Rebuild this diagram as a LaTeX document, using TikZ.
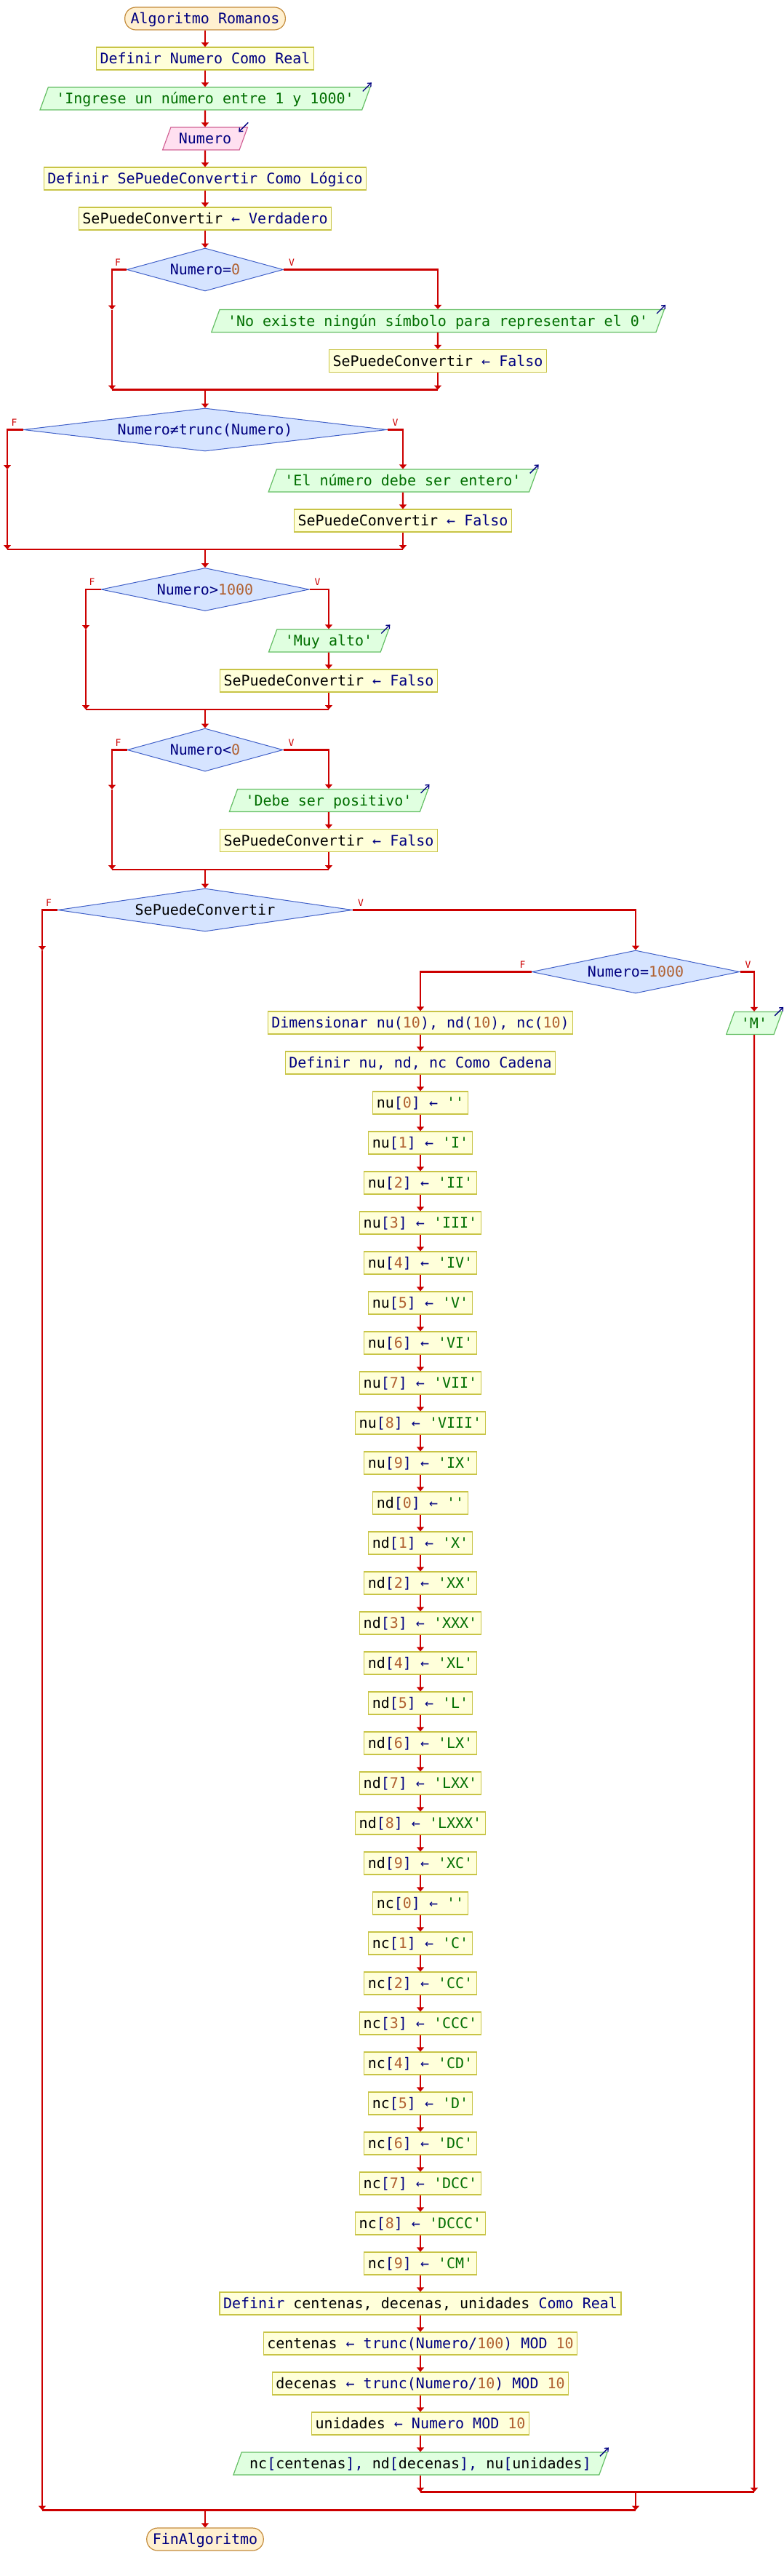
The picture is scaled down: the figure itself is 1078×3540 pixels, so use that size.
\documentclass[tikz,border=0pt]{standalone}
\usepackage{fontspec}
\setmonofont{DejaVu Sans Mono}
\usetikzlibrary{shapes.geometric,arrows.meta}
\definecolor{termedge}{RGB}{196,140,60}
\definecolor{termfill}{RGB}{255,240,208}
\definecolor{procedge}{RGB}{200,196,70}
\definecolor{procfill}{RGB}{255,255,218}
\definecolor{outedge}{RGB}{100,190,100}
\definecolor{outfill}{RGB}{224,255,224}
\definecolor{inedge}{RGB}{210,100,150}
\definecolor{infill}{RGB}{255,224,240}
\definecolor{condedge}{RGB}{64,96,200}
\definecolor{condfill}{RGB}{214,228,255}
\definecolor{flowred}{RGB}{204,0,0}
\definecolor{kwblue}{RGB}{0,0,128}
\definecolor{numbrown}{RGB}{176,96,48}
\definecolor{strgreen}{RGB}{0,110,0}
\newcommand{\kw}[1]{\textcolor{kwblue}{#1}}
\newcommand{\nv}[1]{\textcolor{numbrown}{#1}}
\newcommand{\tx}[1]{\textcolor{strgreen}{#1}}
\tikzset{
  pseudotext/.style={font=\ttfamily\fontsize{20}{24}\selectfont, text height=14pt, text depth=0pt, inner ysep=8.5pt},
  termnode/.style={pseudotext, rectangle, rounded corners=15pt, draw=termedge, fill=termfill, line width=1.2pt, inner xsep=8pt},
  procbox/.style={pseudotext, rectangle, draw=procedge, fill=procfill, line width=1.2pt, inner xsep=5pt},
  outbox/.style={pseudotext, trapezium, trapezium left angle=70, trapezium right angle=110, draw=outedge, fill=outfill, line width=1.2pt, inner xsep=11pt},
  inbox/.style={pseudotext, trapezium, trapezium left angle=70, trapezium right angle=110, draw=inedge, fill=infill, line width=1.2pt, inner xsep=11pt},
  condbox/.style={pseudotext, diamond, aspect=6, inner sep=0pt, minimum height=59pt, draw=condedge, fill=condfill, line width=1pt},
  branchlabel/.style={font=\ttfamily\fontsize{13}{15}\selectfont, text=flowred, inner sep=0pt},
  flow/.style={draw=flowred, line width=2.2pt, -{Triangle[width=10pt,length=6pt]}},
  flowline/.style={draw=flowred, line width=2.2pt},
  outmark/.style={draw=kwblue, line width=1.3pt, -{Straight Barb[length=4pt,width=7pt]}},
}
\begin{document}
\begin{tikzpicture}[x=1pt, y=-1pt]
\useasboundingbox (0,0) rectangle (1078,3540);
% inicio y lectura
\node[termnode] (start) at (282,25.5) {\kw{Algoritmo Romanos}};
\node[procbox] (defnum) at (282,80.5) {\kw{Definir Numero Como Real}};
\node[outbox] (askmsg) at (282,135.5) {\tx{'Ingrese un número entre 1 y 1000'}};
\node[inbox] (readnum) at (282,190.5) {\kw{Numero}};
\node[procbox] (defflag) at (282,245.5) {\kw{Definir SePuedeConvertir Como Lógico}};
\node[procbox] (setflag) at (282,300.5) {SePuedeConvertir \kw{← Verdadero}};
% validaciones
\node[condbox, minimum width=215pt] (ifzero) at (282,370.5) {\kw{Numero=}\nv{0}};
\node[outbox] (zeromsg) at (602,441) {\tx{'No existe ningún símbolo para representar el 0'}};
\node[procbox] (zeroflag) at (602,496) {SePuedeConvertir \kw{← Falso}};
\node[condbox, minimum width=500pt] (ifint) at (282,590.5) {\kw{Numero≠trunc(Numero)}};
\node[outbox] (intmsg) at (554,660.5) {\tx{'El número debe ser entero'}};
\node[procbox] (intflag) at (554,715.5) {SePuedeConvertir \kw{← Falso}};
\node[condbox, minimum width=286pt] (ifbig) at (282,810) {\kw{Numero>}\nv{1000}};
\node[outbox] (bigmsg) at (452,880.5) {\tx{'Muy alto'}};
\node[procbox] (bigflag) at (452,935.5) {SePuedeConvertir \kw{← Falso}};
\node[condbox, minimum width=214pt] (ifneg) at (282,1030.5) {\kw{Numero<}\nv{0}};
\node[outbox] (negmsg) at (452,1100) {\tx{'Debe ser positivo'}};
\node[procbox] (negflag) at (452,1155) {SePuedeConvertir \kw{← Falso}};
% conversion
\node[condbox, minimum width=405pt] (ifflag) at (282,1250.5) {SePuedeConvertir};
\node[condbox, minimum width=286pt] (ifmil) at (874,1335.5) {\kw{Numero=}\nv{1000}};
\node[outbox, inner xsep=9pt] (milmsg) at (1037,1406) {\tx{'M'}};
\node[procbox] (dimarr) at (578,1405.5) {\kw{Dimensionar nu(}\nv{10}\kw{), nd(}\nv{10}\kw{), nc(}\nv{10}\kw{)}};
\node[procbox] (defarr) at (578,1460.5) {\kw{Definir nu, nd, nc Como Cadena}};
\node[procbox] (nu0) at (578,1515.5) {nu\kw{[}\nv{0}\kw{] ←} \tx{''}};
\node[procbox] (nu1) at (578,1570.5) {nu\kw{[}\nv{1}\kw{] ←} \tx{'I'}};
\node[procbox] (nu2) at (578,1625.5) {nu\kw{[}\nv{2}\kw{] ←} \tx{'II'}};
\node[procbox] (nu3) at (578,1680.5) {nu\kw{[}\nv{3}\kw{] ←} \tx{'III'}};
\node[procbox] (nu4) at (578,1735.5) {nu\kw{[}\nv{4}\kw{] ←} \tx{'IV'}};
\node[procbox] (nu5) at (578,1790.5) {nu\kw{[}\nv{5}\kw{] ←} \tx{'V'}};
\node[procbox] (nu6) at (578,1845.5) {nu\kw{[}\nv{6}\kw{] ←} \tx{'VI'}};
\node[procbox] (nu7) at (578,1900.5) {nu\kw{[}\nv{7}\kw{] ←} \tx{'VII'}};
\node[procbox] (nu8) at (578,1955.5) {nu\kw{[}\nv{8}\kw{] ←} \tx{'VIII'}};
\node[procbox] (nu9) at (578,2010.5) {nu\kw{[}\nv{9}\kw{] ←} \tx{'IX'}};
\node[procbox] (nd0) at (578,2065.5) {nd\kw{[}\nv{0}\kw{] ←} \tx{''}};
\node[procbox] (nd1) at (578,2120.5) {nd\kw{[}\nv{1}\kw{] ←} \tx{'X'}};
\node[procbox] (nd2) at (578,2175.5) {nd\kw{[}\nv{2}\kw{] ←} \tx{'XX'}};
\node[procbox] (nd3) at (578,2230.5) {nd\kw{[}\nv{3}\kw{] ←} \tx{'XXX'}};
\node[procbox] (nd4) at (578,2285.5) {nd\kw{[}\nv{4}\kw{] ←} \tx{'XL'}};
\node[procbox] (nd5) at (578,2340.5) {nd\kw{[}\nv{5}\kw{] ←} \tx{'L'}};
\node[procbox] (nd6) at (578,2395.5) {nd\kw{[}\nv{6}\kw{] ←} \tx{'LX'}};
\node[procbox] (nd7) at (578,2450.5) {nd\kw{[}\nv{7}\kw{] ←} \tx{'LXX'}};
\node[procbox] (nd8) at (578,2505.5) {nd\kw{[}\nv{8}\kw{] ←} \tx{'LXXX'}};
\node[procbox] (nd9) at (578,2560.5) {nd\kw{[}\nv{9}\kw{] ←} \tx{'XC'}};
\node[procbox] (nc0) at (578,2615.5) {nc\kw{[}\nv{0}\kw{] ←} \tx{''}};
\node[procbox] (nc1) at (578,2670.5) {nc\kw{[}\nv{1}\kw{] ←} \tx{'C'}};
\node[procbox] (nc2) at (578,2725.5) {nc\kw{[}\nv{2}\kw{] ←} \tx{'CC'}};
\node[procbox] (nc3) at (578,2780.5) {nc\kw{[}\nv{3}\kw{] ←} \tx{'CCC'}};
\node[procbox] (nc4) at (578,2835.5) {nc\kw{[}\nv{4}\kw{] ←} \tx{'CD'}};
\node[procbox] (nc5) at (578,2890.5) {nc\kw{[}\nv{5}\kw{] ←} \tx{'D'}};
\node[procbox] (nc6) at (578,2945.5) {nc\kw{[}\nv{6}\kw{] ←} \tx{'DC'}};
\node[procbox] (nc7) at (578,3000.5) {nc\kw{[}\nv{7}\kw{] ←} \tx{'DCC'}};
\node[procbox] (nc8) at (578,3055.5) {nc\kw{[}\nv{8}\kw{] ←} \tx{'DCCC'}};
\node[procbox] (nc9) at (578,3110.5) {nc\kw{[}\nv{9}\kw{] ←} \tx{'CM'}};
\node[procbox] (defcdu) at (578,3165.5) {\kw{Definir} centenas, decenas, unidades \kw{Como Real}};
\node[procbox] (setcen) at (578,3220.5) {centenas \kw{← trunc(Numero/}\nv{100}\kw{) MOD} \nv{10}};
\node[procbox] (setdec) at (578,3275.5) {decenas \kw{← trunc(Numero/}\nv{10}\kw{) MOD} \nv{10}};
\node[procbox] (setuni) at (578,3330.5) {unidades \kw{← Numero MOD} \nv{10}};
\node[outbox] (showrom) at (578,3385.5) {nc\kw{[}centenas\kw{],} nd\kw{[}decenas\kw{],} nu\kw{[}unidades\kw{]}};
\node[termnode] (finish) at (282,3489.5) {\kw{FinAlgoritmo}};
% etiquetas F / V
\node[branchlabel] (ifzeroF) at ([shift={(-12,-10)}]ifzero.west) {F};
\node[branchlabel] (ifzeroV) at ([shift={(11,-10)}]ifzero.east) {V};
\node[branchlabel] (ifintF) at ([shift={(-12,-10)}]ifint.west) {F};
\node[branchlabel] (ifintV) at ([shift={(11,-10)}]ifint.east) {V};
\node[branchlabel] (ifbigF) at ([shift={(-12,-10)}]ifbig.west) {F};
\node[branchlabel] (ifbigV) at ([shift={(11,-10)}]ifbig.east) {V};
\node[branchlabel] (ifnegF) at ([shift={(-12,-10)}]ifneg.west) {F};
\node[branchlabel] (ifnegV) at ([shift={(11,-10)}]ifneg.east) {V};
\node[branchlabel] (ifflagF) at ([shift={(-12,-10)}]ifflag.west) {F};
\node[branchlabel] (ifflagV) at ([shift={(11,-10)}]ifflag.east) {V};
\node[branchlabel] (ifmilF) at ([shift={(-12,-10)}]ifmil.west) {F};
\node[branchlabel] (ifmilV) at ([shift={(11,-10)}]ifmil.east) {V};
% marcas de entrada / salida
\draw[outmark] ([shift={(-11,6)}]askmsg.top right corner) -- ++(12,-12);
\draw[outmark] ([shift={(0,-6)}]readnum.top right corner) -- ++(-13,13);
\draw[outmark] ([shift={(-11,6)}]zeromsg.top right corner) -- ++(12,-12);
\draw[outmark] ([shift={(-11,6)}]intmsg.top right corner) -- ++(12,-12);
\draw[outmark] ([shift={(-11,6)}]bigmsg.top right corner) -- ++(12,-12);
\draw[outmark] ([shift={(-11,6)}]negmsg.top right corner) -- ++(12,-12);
\draw[outmark] ([shift={(-11,6)}]milmsg.top right corner) -- ++(12,-12);
\draw[outmark] ([shift={(-11,6)}]showrom.top right corner) -- ++(12,-12);
% puntos de union
\coordinate (zeroskip) at (154,425.5);
\coordinate (zerojoinL) at (154,535.5);
\coordinate (zerojoin) at (282,535.5);
\coordinate (zerojoinR) at (602,535.5);
\coordinate (intskip) at (10,645);
\coordinate (intjoinL) at (10,755);
\coordinate (intjoin) at (282,755);
\coordinate (intjoinR) at (554,755);
\coordinate (bigskip) at (118,865);
\coordinate (bigjoinL) at (118,975);
\coordinate (bigjoin) at (282,975);
\coordinate (bigjoinR) at (452,975);
\coordinate (negskip) at (154,1084.5);
\coordinate (negjoinL) at (154,1195);
\coordinate (negjoin) at (282,1195);
\coordinate (negjoinR) at (452,1195);
\coordinate (flagskip) at (58,1306);
\coordinate (flagjoinL) at (58,3449.5);
\coordinate (flagjoin) at (282,3449.5);
\coordinate (flagjoinR) at (874,3449.5);
\coordinate (miljoinL) at (578,3424.5);
\coordinate (miljoin) at (874,3424.5);
\coordinate (miljoinR) at (1037,3424.5);
% conectores
\draw[flow] (start) -- (defnum);
\draw[flow] (defnum) -- (askmsg);
\draw[flow] (askmsg) -- (readnum);
\draw[flow] (readnum) -- (defflag);
\draw[flow] (defflag) -- (setflag);
\draw[flow] (setflag) -- (ifzero);
\draw[flow] (ifzero.east) -| (zeromsg.north);
\draw[flow] (zeromsg) -- (zeroflag);
\draw[flow] (zeroflag) -- (zerojoinR);
\draw[flow] (ifzero.west) -| (zeroskip);
\draw[flow] (zeroskip) -- (zerojoinL);
\draw[flowline] (zerojoinL) -- (zerojoinR);
\draw[flow] (zerojoin) -- (ifint.north);
\draw[flow] (ifint.east) -| (intmsg.north);
\draw[flow] (intmsg) -- (intflag);
\draw[flow] (intflag) -- (intjoinR);
\draw[flow] (ifint.west) -| (intskip);
\draw[flow] (intskip) -- (intjoinL);
\draw[flowline] (intjoinL) -- (intjoinR);
\draw[flow] (intjoin) -- (ifbig.north);
\draw[flow] (ifbig.east) -| (bigmsg.north);
\draw[flow] (bigmsg) -- (bigflag);
\draw[flow] (bigflag) -- (bigjoinR);
\draw[flow] (ifbig.west) -| (bigskip);
\draw[flow] (bigskip) -- (bigjoinL);
\draw[flowline] (bigjoinL) -- (bigjoinR);
\draw[flow] (bigjoin) -- (ifneg.north);
\draw[flow] (ifneg.east) -| (negmsg.north);
\draw[flow] (negmsg) -- (negflag);
\draw[flow] (negflag) -- (negjoinR);
\draw[flow] (ifneg.west) -| (negskip);
\draw[flow] (negskip) -- (negjoinL);
\draw[flowline] (negjoinL) -- (negjoinR);
\draw[flow] (negjoin) -- (ifflag.north);
\draw[flow] (ifflag.east) -| (ifmil.north);
\draw[flow] (ifflag.west) -| (flagskip);
\draw[flow] (flagskip) -- (flagjoinL);
\draw[flow] (ifmil.east) -| (milmsg.north);
\draw[flow] (ifmil.west) -| (dimarr.north);
\draw[flow] (dimarr) -- (defarr);
\draw[flow] (defarr) -- (nu0);
\draw[flow] (nu0) -- (nu1);
\draw[flow] (nu1) -- (nu2);
\draw[flow] (nu2) -- (nu3);
\draw[flow] (nu3) -- (nu4);
\draw[flow] (nu4) -- (nu5);
\draw[flow] (nu5) -- (nu6);
\draw[flow] (nu6) -- (nu7);
\draw[flow] (nu7) -- (nu8);
\draw[flow] (nu8) -- (nu9);
\draw[flow] (nu9) -- (nd0);
\draw[flow] (nd0) -- (nd1);
\draw[flow] (nd1) -- (nd2);
\draw[flow] (nd2) -- (nd3);
\draw[flow] (nd3) -- (nd4);
\draw[flow] (nd4) -- (nd5);
\draw[flow] (nd5) -- (nd6);
\draw[flow] (nd6) -- (nd7);
\draw[flow] (nd7) -- (nd8);
\draw[flow] (nd8) -- (nd9);
\draw[flow] (nd9) -- (nc0);
\draw[flow] (nc0) -- (nc1);
\draw[flow] (nc1) -- (nc2);
\draw[flow] (nc2) -- (nc3);
\draw[flow] (nc3) -- (nc4);
\draw[flow] (nc4) -- (nc5);
\draw[flow] (nc5) -- (nc6);
\draw[flow] (nc6) -- (nc7);
\draw[flow] (nc7) -- (nc8);
\draw[flow] (nc8) -- (nc9);
\draw[flow] (nc9) -- (defcdu);
\draw[flow] (defcdu) -- (setcen);
\draw[flow] (setcen) -- (setdec);
\draw[flow] (setdec) -- (setuni);
\draw[flow] (setuni) -- (showrom);
\draw[flow] (showrom) -- (miljoinL);
\draw[flow] (milmsg) -- (miljoinR);
\draw[flowline] (miljoinL) -- (miljoinR);
\draw[flow] (miljoin) -- (flagjoinR);
\draw[flowline] (flagjoinL) -- (flagjoinR);
\draw[flow] (flagjoin) -- (finish);
\end{tikzpicture}
\end{document}
